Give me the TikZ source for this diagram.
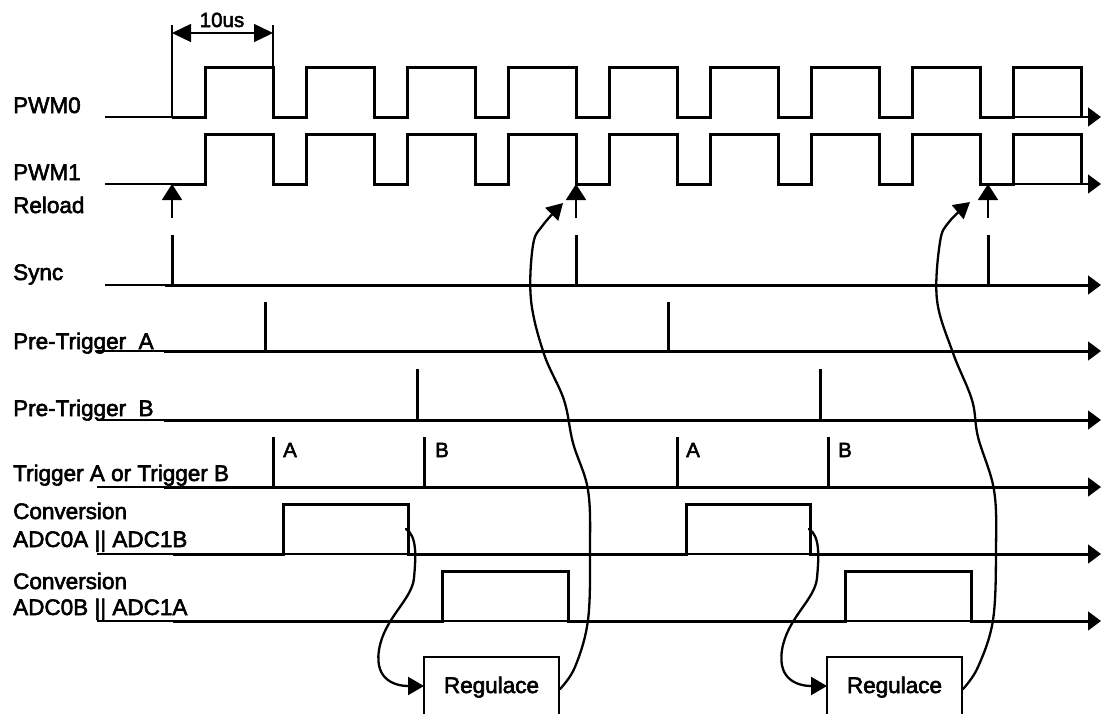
\documentclass[tikz,border=0pt]{standalone}
\usepackage{fontspec}
\setmainfont{Liberation Sans}
\newfontfamily\heavyfont{Liberation Sans}[FakeBold=2.5]
\usetikzlibrary{arrows.meta,calc}
\tikzset{
  axisline/.style={line width=1.4pt},
  sigline/.style={line width=3pt, line join=miter},
  curveline/.style={line width=2.3pt, line cap=round},
  boxline/.style={line width=2.8pt},
  lab/.style={font=\heavyfont\fontsize{22.5}{27}\selectfont, anchor=base west, inner sep=0pt},
  smalllab/.style={font=\heavyfont\fontsize{20.5}{24}\selectfont, anchor=base west, inner sep=0pt},
  endarrow/.style={-{Triangle[length=13pt,width=19pt]}},
  curvetip/.style={-{Triangle[length=16pt,width=18pt]}},
}
\begin{document}
\begin{tikzpicture}[x=1pt,y=-1pt]
\useasboundingbox (0,0) rectangle (1101,713);

% ---- labels ----
\node[lab] (lpwm0) at (13,113) {PWM0};
\node[lab] (lpwm1) at (13,180) {PWM1};
\node[lab] (lrel) at (13,213) {Reload};
\node[lab] (lsync) at (13,280) {Sync};
\node[lab] (lpta) at (13,349) {Pre-Trigger\ \ A};
\node[lab] (lptb) at (13,416) {Pre-Trigger\ \ B};
\node[lab] (ltrig) at (13,481) {Trigger A or Trigger B};
\node[lab] (lc1a) at (13,519) {Conversion};
\node[lab] (lc1b) at (13,547) {ADC0A || ADC1B};
\node[lab] (lc2a) at (13,589) {Conversion};
\node[lab] (lc2b) at (13,615) {ADC0B || ADC1A};

% ---- 10us dimension ----
\draw[axisline] (172,117) -- (172,25);
\draw[axisline] (273,67) -- (273,25);
\draw[axisline, {Triangle[length=19pt,width=18pt]}-{Triangle[length=19pt,width=18pt]}] (172,33) -- (273,33);
\node[smalllab, anchor=base] (dim) at (222,27) {10us};

% ---- PWM0 ----
\draw[axisline] (105,117) -- (172,117);
\draw[axisline, endarrow] (980,117) -- (1101,117);
\draw[sigline] (172,117) \foreach \k in {0,...,8} { -- ({205+101*\k},117) -- ({205+101*\k},67) -- ({273+101*\k},67) -- ({273+101*\k},117) };

% ---- PWM1 ----
\draw[axisline] (105,184) -- (172,184);
\draw[axisline, endarrow] (980,184) -- (1101,184);
\draw[sigline] (172,184) \foreach \k in {0,...,8} { -- ({205+101*\k},184) -- ({205+101*\k},134) -- ({273+101*\k},134) -- ({273+101*\k},184) };

% ---- Reload arrows ----
\coordinate (rl0) at (172,184);
\coordinate (rl1) at (576,184);
\coordinate (rl2) at (988,184);
\foreach \c in {rl0,rl1,rl2} {
  \draw[line width=1.8pt, -{Triangle[length=16pt,width=20pt]}] ($(\c)+(0,34)$) -- (\c);
}

% ---- Sync ----
\draw[axisline, endarrow] (105,285) -- (1101,285);
\draw[sigline] (165,285) -- (1088,285);
\foreach \x in {172,576,988} { \draw[sigline] (\x,235) -- (\x,286); }

% ---- Pre-Trigger A ----
\draw[axisline, endarrow] (97,351) -- (1101,351);
\draw[sigline] (164,351) -- (1088,351);
\foreach \x in {265,668} { \draw[sigline] (\x,302) -- (\x,352); }

% ---- Pre-Trigger B ----
\draw[axisline, endarrow] (97,420) -- (1101,420);
\draw[sigline] (164,420) -- (1088,420);
\foreach \x in {417,820} { \draw[sigline] (\x,369) -- (\x,421); }

% ---- Trigger ----
\draw[axisline, endarrow] (97,487) -- (1101,487);
\draw[sigline] (164,487) -- (1088,487);
\foreach \x in {273,424,677,828} { \draw[sigline] (\x,437) -- (\x,488); }
\node[smalllab] (ta1) at (283,457) {A};
\node[smalllab] (tb1) at (435,457) {B};
\node[smalllab] (ta2) at (686,457) {A};
\node[smalllab] (tb2) at (838,457) {B};

% ---- Conversion 1 ----
\draw[axisline, endarrow] (97,554) -- (1101,554);
\draw[sigline] (173,554) -- (283,554) -- (283,504) -- (408,504) -- (408,554) -- (686,554) -- (686,504) -- (810,504) -- (810,554) -- (1088,554);

% ---- Conversion 2 ----
\draw[axisline, endarrow] (97,621) -- (1101,621);
\draw[sigline] (173,621) -- (442,621) -- (442,571) -- (568,571) -- (568,621) -- (845,621) -- (845,571) -- (971,571) -- (971,621) -- (1088,621);

% ---- Regulace boxes ----
\draw[boxline] (424,716) |- (559,657) -- (559,716);
\node[lab, anchor=base] (reg1) at (491.5,693) {Regulace};
\draw[boxline] (827,716) |- (962,657) -- (962,716);
\node[lab, anchor=base] (reg2) at (894.5,693) {Regulace};

\coordinate (r1w) at (424,686);
\coordinate (r1e) at (560,689);
\coordinate (r2w) at (827,686);
\coordinate (r2e) at (963,689);
\coordinate (c1s) at (406,529);
\coordinate (c2s) at (809,529);
\coordinate (t1) at (563,203);
\coordinate (t2) at (970,202);

% ---- curves: conversion end -> Regulace ----
\draw[curveline, curvetip] (c1s) .. controls (417,536) and (416,556) .. (414,578)
   .. controls (412,600) and (384,618) .. (379,650)
   .. controls (374,682) and (398,686) .. (r1w);
\draw[curveline, curvetip] (c2s) .. controls (820,536) and (819,556) .. (817,578)
   .. controls (815,600) and (787,618) .. (782,650)
   .. controls (777,682) and (801,686) .. (r2w);

% ---- curves: Regulace -> Reload ----
\draw[curveline, curvetip] plot[smooth, tension=0.6] coordinates {(r1e) (575,667) (588,620) (590,550) (588,490) (573,443) (564,400) (544,354) (531,300) (533,245) (543,225) (t1)};
\draw[curveline, curvetip] plot[smooth, tension=0.6] coordinates {(r2e) (978,667) (993,620) (996,550) (994,490) (978,437) (972,400) (953,353) (937,300) (940,242) (949,222) (t2)};

\end{tikzpicture}
\end{document}
